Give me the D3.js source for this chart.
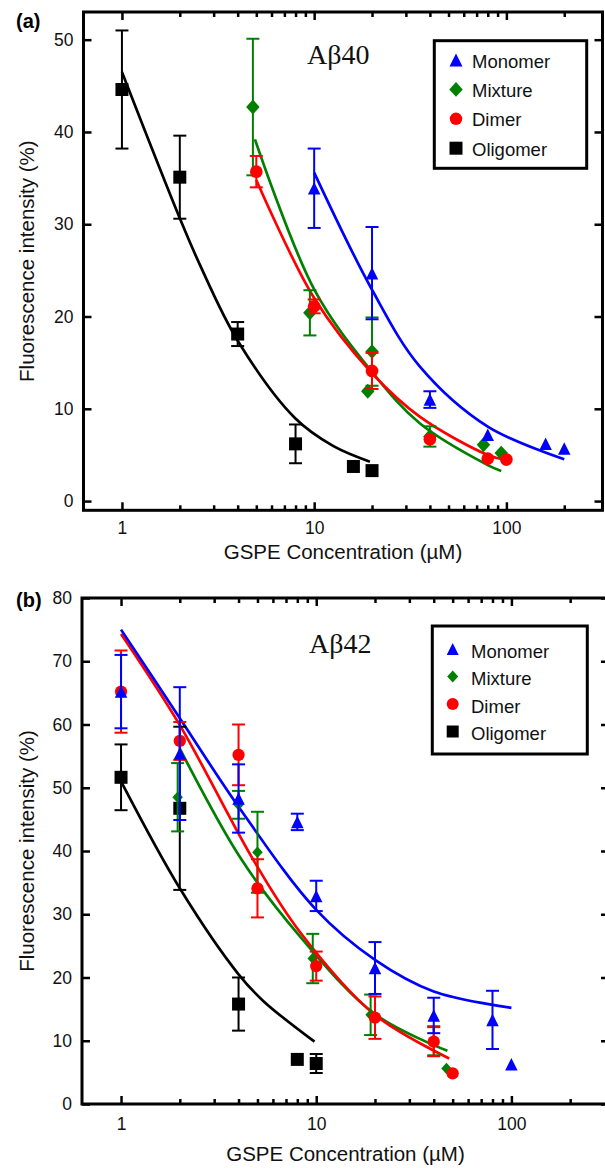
<!DOCTYPE html>
<html>
<head>
<meta charset="utf-8">
<script src="https://cdn.jsdelivr.net/npm/d3@7"></script>
<style>
  body { margin: 0; background: #fff; }
  svg { display: block; }
  text { font-family: "Liberation Sans", Arial, Helvetica, sans-serif; }
</style>
</head>
<body>
<svg id="chart" width="605" height="1168"></svg>
<script>
// ---------- data ----------
const seriesNames = ["Monomer", "Mixture", "Dimer", "Oligomer"];
const xMajorTicks = [1, 10, 100];
const xMinorTicks = [2, 3, 4, 5, 6, 7, 8, 9, 20, 30, 40, 50, 60, 70, 80, 90, 200];
const yTicksA = [0, 10, 20, 30, 40, 50];
const yTicksB = [0, 10, 20, 30, 40, 50, 60, 70, 80];

// (a) Abeta40 : measured points (conc in uM, intensity %, error)
const a40MonomerConc = [10, 20, 40, 80, 160, 200];
const a40MonomerVal  = [33.9, 24.7, 11.0, 7.2, 6.2, 5.7];
const a40MonomerErr  = [4.3, 5.0, 0.9, 0, 0, 0];
const a40MixtureConc = [4.8, 9.5, 20, 19, 40, 76, 94];
const a40MixtureVal  = [42.7, 20.4, 16.2, 11.9, 7.0, 6.1, 5.2];
const a40MixtureErr  = [7.4, 2.45, 3.7, 0, 1.1, 0, 0];
const a40DimerConc = [5, 10, 20, 40, 80, 100];
const a40DimerVal  = [35.7, 21.1, 14.1, 6.7, 4.6, 4.5];
const a40DimerErr  = [1.7, 0.75, 1.95, 0, 0, 0];
const a40OligomerConc = [1, 2, 4, 8, 16, 20];
const a40OligomerVal  = [44.6, 35.1, 18.1, 6.2, 3.75, 3.3];
const a40OligomerErr  = [6.4, 4.5, 1.3, 2.1, 0, 0];

// (a) fitted curves, sampled from the figure
const a40MonomerFitConc = [10, 20, 35.4, 80, 200];
const a40MonomerFitVal  = [35.6, 22.9, 14.6, 8.07, 4.53];
const a40MixtureFitConc = [4.92, 10, 20, 35.4, 80, 94];
const a40MixtureFitVal  = [39.2, 22.95, 14.0, 8.43, 3.9, 3.26];
const a40DimerFitConc = [5, 10, 20, 35.4, 80, 100];
const a40DimerFitVal  = [34.8, 22.0, 13.85, 9.15, 5.0, 4.45];
const a40OligomerFitConc = [1, 2, 2.545, 3.98, 7.94, 12.6, 19.5];
const a40OligomerFitVal  = [46.5, 30.65, 25.6, 17.46, 9.0, 5.95, 4.27];

// (b) Abeta42 : measured points
const a42MonomerConc = [1, 2, 4, 8, 10, 20, 40, 80, 100];
const a42MonomerVal  = [65.2, 55.4, 48.3, 44.6, 32.9, 21.5, 14.0, 13.3, 6.3];
const a42MonomerErr  = [5.8, 10.5, 5.4, 1.3, 2.4, 4.1, 2.8, 4.6, 0];
const a42MixtureConc = [1.95, 4, 5, 9.6, 19, 40, 46.5];
const a42MixtureVal  = [48.5, 47.3, 39.8, 23.0, 14.1, 10.0, 5.6];
const a42MixtureErr  = [5.4, 2.2, 6.4, 3.9, 3.2, 2.3, 0];
const a42DimerConc = [1, 2, 4, 5, 10, 20, 40, 50];
const a42DimerVal  = [65.2, 57.4, 55.2, 34.1, 21.8, 13.65, 9.85, 4.85];
const a42DimerErr  = [6.5, 3.0, 4.8, 4.6, 2.3, 3.35, 2.3, 0];
const a42OligomerConc = [1, 2, 4, 8, 10];
const a42OligomerVal  = [51.65, 46.75, 15.8, 7.05, 6.4];
const a42OligomerErr  = [5.2, 12.9, 4.2, 0, 1.5];

// (b) fitted curves
const a42MonomerFitConc = [1, 2, 4, 10, 20, 40, 100];
const a42MonomerFitVal  = [75.0, 61.0, 47.0, 30.7, 22.8, 17.8, 15.2];
const a42MixtureFitConc = [2, 4.15, 8.25, 20, 47];
const a42MixtureFitVal  = [56.2, 38.6, 26.5, 14.2, 8.4];
const a42DimerFitConc = [1, 2, 4.76, 8.25, 20, 48];
const a42DimerFitVal  = [74.3, 59.9, 38.6, 27.2, 14.1, 7.2];
const a42OligomerFitConc = [1, 2, 4, 5.35, 9.8];
const a42OligomerFitVal  = [51.0, 34.1, 20.5, 16.3, 9.85];

// ---------- styles ----------
const colors = { Monomer: "#0000ff", Mixture: "#008000", Dimer: "#ff0000", Oligomer: "#000000" };

// marker shapes, size = width in px
const symTriangle = { draw(c, s) { const h = s / 2; c.moveTo(0, -h); c.lineTo(h, h); c.lineTo(-h, h); c.closePath(); } };
const symDiamond  = { draw(c, s) { const w = s / 2, h = s * 0.55; c.moveTo(0, -h); c.lineTo(w, 0); c.lineTo(0, h); c.lineTo(-w, 0); c.closePath(); } };
const symCircle   = { draw(c, s) { const r = s / 2; c.moveTo(r, 0); c.arc(0, 0, r, 0, 2 * Math.PI); } };
const symSquare   = { draw(c, s) { const h = s / 2; c.rect(-h, -h, s, s); } };
const shapes = { Monomer: symTriangle, Mixture: symDiamond, Dimer: symCircle, Oligomer: symSquare };

const svg = d3.select("#chart");

function zipPts(cs, vs, es) { return cs.map((c, i) => ({ c: c, v: vs[i], e: es ? es[i] : 0 })); }

function drawPanel(p) {
  const x = d3.scaleLog().domain(p.xDomain).range(p.xRange);
  const y = d3.scaleLinear().domain(p.yDomain).range(p.yRange);
  const left = p.xRange[0], right = p.xRange[1], bottom = p.yRange[0], top = p.yRange[1];
  const g = svg.append("g");

  function addAxis(axis, tx, ty) {
    const a = g.append("g").attr("transform", "translate(" + tx + "," + ty + ")").call(axis);
    a.select(".domain").remove();
    a.selectAll("line").attr("stroke", "#000").attr("stroke-width", 2.5);
    a.selectAll("text").attr("font-size", 17.5).attr("fill", "#111");
    return a;
  }

  addAxis(d3.axisBottom(x).tickValues(xMajorTicks).tickFormat(d3.format("d")).tickSizeInner(-8).tickSizeOuter(0).tickPadding(p.xPad), 0, bottom);
  addAxis(d3.axisBottom(x).tickValues(xMinorTicks).tickFormat("").tickSizeInner(-5).tickSizeOuter(0), 0, bottom);
  addAxis(d3.axisTop(x).tickValues(xMajorTicks).tickFormat("").tickSizeInner(-8).tickSizeOuter(0), 0, top);
  addAxis(d3.axisTop(x).tickValues(xMinorTicks).tickFormat("").tickSizeInner(-5).tickSizeOuter(0), 0, top);
  addAxis(d3.axisLeft(y).tickValues(p.yTicks).tickSizeInner(-8).tickSizeOuter(0).tickPadding(10), left, 0);
  addAxis(d3.axisRight(y).tickValues(p.yTicks).tickFormat("").tickSizeInner(-8).tickSizeOuter(0), right, 0);

  g.append("rect")
    .attr("x", left).attr("y", top)
    .attr("width", right - left).attr("height", bottom - top)
    .attr("fill", "none").attr("stroke", "#000").attr("stroke-width", 3);

  // fitted curves
  const line = d3.line().x(d => x(d.c)).y(d => y(d.v)).curve(d3.curveCatmullRom.alpha(0.5));
  p.series.forEach(s => {
    g.append("path")
      .datum(zipPts(s.fitC, s.fitV))
      .attr("d", line)
      .attr("fill", "none")
      .attr("stroke", colors[s.name])
      .attr("stroke-width", 2.7);
  });

  // points with error bars
  p.series.forEach(s => {
    const pts = zipPts(s.conc, s.val, s.err);
    const sg = g.append("g").attr("stroke", colors[s.name]).attr("stroke-width", 2);
    const eb = pts.filter(d => d.e > 0);
    sg.selectAll(".eb").data(eb).enter().append("line")
      .attr("x1", d => x(d.c)).attr("x2", d => x(d.c))
      .attr("y1", d => y(d.v - d.e)).attr("y2", d => y(d.v + d.e));
    [-1, 1].forEach(k => {
      sg.selectAll(".cap" + k).data(eb).enter().append("line")
        .attr("x1", d => x(d.c) - 6.5).attr("x2", d => x(d.c) + 6.5)
        .attr("y1", d => y(d.v + k * d.e)).attr("y2", d => y(d.v + k * d.e));
    });
    g.selectAll(".m-" + s.name).data(pts).enter().append("path")
      .attr("transform", d => "translate(" + x(d.c) + "," + y(d.v) + ")")
      .attr("d", d3.symbol().type(shapes[s.name]).size(p.markerSize[s.name]))
      .attr("fill", colors[s.name]);
  });

  // legend
  const L = p.legend;
  g.append("rect")
    .attr("x", L.x).attr("y", L.y).attr("width", L.w).attr("height", L.h)
    .attr("fill", "#fff").attr("stroke", "#000").attr("stroke-width", 3);
  seriesNames.forEach((n, i) => {
    const cy = L.y0 + i * L.step;
    g.append("path")
      .attr("transform", "translate(" + L.mx + "," + cy + ")")
      .attr("d", d3.symbol().type(shapes[n]).size(L.size[n]))
      .attr("fill", colors[n]);
    g.append("text").attr("x", L.tx).attr("y", cy + L.dy)
      .attr("font-size", 18.5).attr("fill", "#111").text(n);
  });

  // texts
  g.append("text").attr("x", 16).attr("y", p.tagY)
    .attr("font-size", 20).attr("font-weight", "bold").text(p.tag);
  g.append("text").attr("x", p.titleX).attr("y", p.titleY)
    .style("font-family", "'Liberation Serif', 'Times New Roman', serif")
    .attr("font-size", 28).attr("fill", "#111").text(p.title);
  g.append("text")
    .attr("transform", "translate(34," + ((top + bottom) / 2) + ") rotate(-90)")
    .attr("text-anchor", "middle").attr("font-size", 20.5).attr("fill", "#111")
    .text("Fluorescence intensity (%)");
  g.append("text")
    .attr("x", (left + right) / 2).attr("y", p.xTitleY)
    .attr("text-anchor", "middle").attr("font-size", 20.5).attr("fill", "#111")
    .text("GSPE Concentration (\u00b5M)");
}

drawPanel({
  tag: "(a)", tagY: 28, title: "A\u03b240", titleX: 307, titleY: 64,
  xDomain: [Math.pow(10, -0.2), Math.pow(10, 2.5)], xRange: [83.5, 602.5],
  yDomain: [-1, 53], yRange: [510.3, 12], yTicks: yTicksA, xPad: 11, xTitleY: 559,
  markerSize: { Monomer: 12.5, Mixture: 13.5, Dimer: 12.7, Oligomer: 13 },
  legend: { x: 434.3, y: 40.7, w: 152.4, h: 127.6, mx: 456, tx: 472, y0: 60, step: 29.4, dy: 7.5,
            size: { Monomer: 13, Mixture: 13.5, Dimer: 12.5, Oligomer: 13 } },
  series: [
    { name: "Oligomer", conc: a40OligomerConc, val: a40OligomerVal, err: a40OligomerErr, fitC: a40OligomerFitConc, fitV: a40OligomerFitVal },
    { name: "Mixture", conc: a40MixtureConc, val: a40MixtureVal, err: a40MixtureErr, fitC: a40MixtureFitConc, fitV: a40MixtureFitVal },
    { name: "Dimer", conc: a40DimerConc, val: a40DimerVal, err: a40DimerErr, fitC: a40DimerFitConc, fitV: a40DimerFitVal },
    { name: "Monomer", conc: a40MonomerConc, val: a40MonomerVal, err: a40MonomerErr, fitC: a40MonomerFitConc, fitV: a40MonomerFitVal }
  ]
});

drawPanel({
  tag: "(b)", tagY: 607, title: "A\u03b242", titleX: 309, titleY: 653,
  xDomain: [Math.pow(10, -0.2), Math.pow(10, 2.5)], xRange: [82, 609],
  yDomain: [0, 80], yRange: [1104, 598], yTicks: yTicksB, xPad: 14, xTitleY: 1161,
  markerSize: { Monomer: 12.5, Mixture: 10.5, Dimer: 12.3, Oligomer: 13 },
  legend: { x: 432.3, y: 626, w: 155, h: 128, mx: 452.7, tx: 471, y0: 649, step: 27.5, dy: 8.5,
            size: { Monomer: 12, Mixture: 11, Dimer: 12, Oligomer: 12 } },
  series: [
    { name: "Oligomer", conc: a42OligomerConc, val: a42OligomerVal, err: a42OligomerErr, fitC: a42OligomerFitConc, fitV: a42OligomerFitVal },
    { name: "Mixture", conc: a42MixtureConc, val: a42MixtureVal, err: a42MixtureErr, fitC: a42MixtureFitConc, fitV: a42MixtureFitVal },
    { name: "Dimer", conc: a42DimerConc, val: a42DimerVal, err: a42DimerErr, fitC: a42DimerFitConc, fitV: a42DimerFitVal },
    { name: "Monomer", conc: a42MonomerConc, val: a42MonomerVal, err: a42MonomerErr, fitC: a42MonomerFitConc, fitV: a42MonomerFitVal }
  ]
});
</script>
</body>
</html>
